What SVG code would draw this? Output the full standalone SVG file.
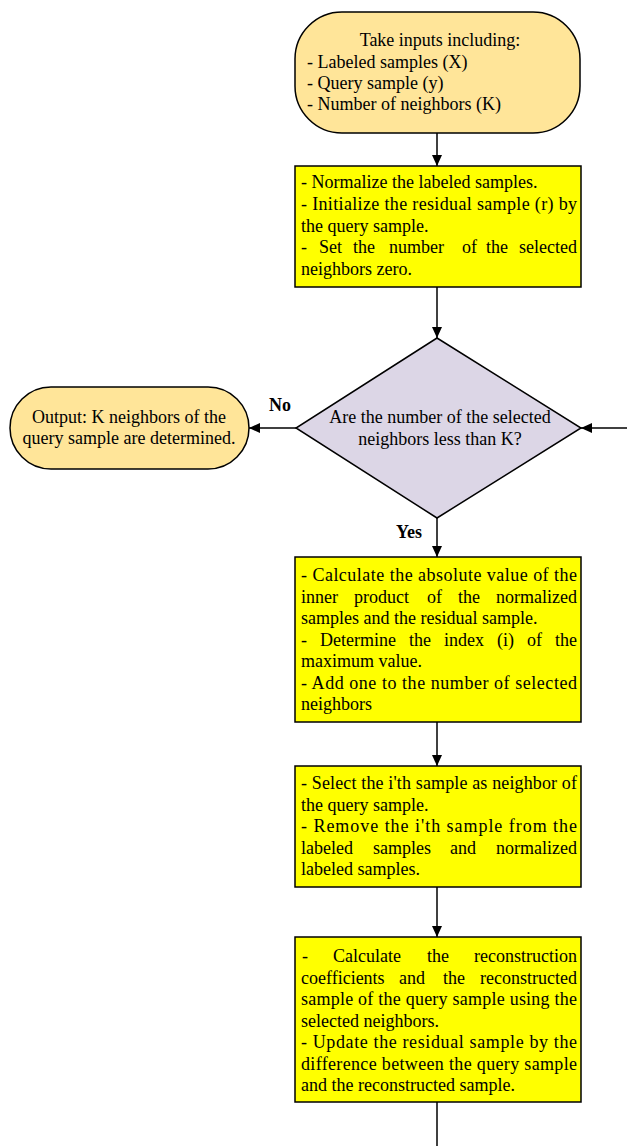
<svg xmlns="http://www.w3.org/2000/svg" width="627" height="1146" viewBox="0 0 627 1146">
<style>
.t{font-family:"Liberation Serif","Times New Roman",serif;font-size:18px;fill:#000}
.c{text-anchor:middle}
.e{text-anchor:end}
.b{font-weight:bold}
.term{fill:#FFE599;stroke:#000;stroke-width:1.5}
.box{fill:#FFFF00;stroke:#000;stroke-width:1.5}
.dia{fill:#DCD6E6;stroke:#000;stroke-width:1.5}
.ln{stroke:#000;stroke-width:1.5;fill:none;marker-end:url(#ah)}
.ln0{stroke:#000;stroke-width:1.5;fill:none}
</style>
<defs>
<marker id="ah" markerWidth="12" markerHeight="10" refX="11" refY="5" orient="auto" markerUnits="userSpaceOnUse">
<path d="M0,0 L11,5 L0,10 Z" fill="#000"/>
</marker>
</defs>

<g id="connectors">
<line class="ln" x1="437" y1="133" x2="437" y2="166"/>
<line class="ln" x1="437" y1="287" x2="437" y2="338"/>
<line class="ln" x1="296" y1="428" x2="249" y2="428"/>
<line class="ln" x1="627" y1="428" x2="581" y2="428"/>
<line class="ln" x1="437" y1="518" x2="437" y2="557"/>
<line class="ln" x1="437" y1="722" x2="437" y2="766"/>
<line class="ln" x1="437" y1="887" x2="437" y2="937"/>
<line class="ln0" x1="437" y1="1102" x2="437" y2="1146"/>
<text class="t b" x="269" y="411">No</text>
<text class="t b" x="396" y="538">Yes</text>
</g>

<g id="start">
<rect class="term" x="295" y="12" width="285" height="121" rx="47" ry="47"/>
<text class="t c" x="440" y="46">Take inputs including:</text>
<text class="t" x="307" y="68">- Labeled samples (X)</text>
<text class="t" x="307" y="89">- Query sample (y)</text>
<text class="t" x="307" y="110">- Number of neighbors (K)</text>
</g>

<g id="init">
<rect class="box" x="295" y="166" width="286" height="121"/>
<text class="t" x="301" y="188">- Normalize the labeled samples.</text>
<text class="t" x="301" y="210" textLength="276" lengthAdjust="spacing">- Initialize the residual sample (r) by</text>
<text class="t" x="301" y="232">the query sample.</text>
<text class="t" y="253"><tspan x="301">-</tspan><tspan x="319">Set</tspan><tspan x="353">the</tspan><tspan x="389">number</tspan><tspan x="462">of</tspan><tspan x="486">the</tspan><tspan x="577" text-anchor="end">selected</tspan></text>
<text class="t" x="301" y="275">neighbors zero.</text>
</g>

<g id="decision">
<polygon class="dia" points="437,338 581,428 437,518 296,428"/>
<text class="t c" x="440" y="423">Are the number of the selected</text>
<text class="t c" x="440" y="445">neighbors less than K?</text>
</g>

<g id="output">
<rect class="term" x="10" y="387" width="239" height="82" rx="41" ry="41"/>
<text class="t c" x="129" y="423">Output: K neighbors of the</text>
<text class="t c" x="129" y="444">query sample are determined.</text>
</g>

<g id="calc">
<rect class="box" x="295" y="557" width="286" height="165"/>
<text class="t" x="301" y="581" textLength="276" lengthAdjust="spacing">- Calculate the absolute value of the</text>
<text class="t" y="603"><tspan x="301">inner</tspan><tspan x="354">product</tspan><tspan x="427">of</tspan><tspan x="458">the</tspan><tspan x="577" text-anchor="end">normalized</tspan></text>
<text class="t" x="301" y="624">samples and  the residual sample.</text>
<text class="t" y="646"><tspan x="301">-</tspan><tspan x="320">Determine</tspan><tspan x="409">the</tspan><tspan x="444">index</tspan><tspan x="497">(i)</tspan><tspan x="527">of</tspan><tspan x="577" text-anchor="end">the</tspan></text>
<text class="t" x="301" y="667">maximum value.</text>
<text class="t" x="301" y="689" textLength="276" lengthAdjust="spacing">- Add one to the number of selected</text>
<text class="t" x="301" y="710">neighbors</text>
</g>

<g id="select">
<rect class="box" x="295" y="766" width="286" height="121"/>
<text class="t" x="301" y="789" textLength="276" lengthAdjust="spacing">- Select the i'th sample as neighbor of</text>
<text class="t" x="301" y="811">the query sample.</text>
<text class="t" x="301" y="832" textLength="276" lengthAdjust="spacing">- Remove the i'th sample from the</text>
<text class="t" y="854"><tspan x="301">labeled</tspan><tspan x="373">samples</tspan><tspan x="450">and</tspan><tspan x="577" text-anchor="end">normalized</tspan></text>
<text class="t" x="301" y="875">labeled samples.</text>
</g>

<g id="update">
<rect class="box" x="295" y="937" width="286" height="165"/>
<text class="t" y="962"><tspan x="302">-</tspan><tspan x="333">Calculate</tspan><tspan x="427">the</tspan><tspan x="577" text-anchor="end">reconstruction</tspan></text>
<text class="t" y="983.5"><tspan x="301">coefficients</tspan><tspan x="399">and</tspan><tspan x="443">the</tspan><tspan x="577" text-anchor="end">reconstructed</tspan></text>
<text class="t" x="301" y="1005" textLength="276" lengthAdjust="spacing">sample of the query sample using the</text>
<text class="t" x="301" y="1026.5">selected neighbors.</text>
<text class="t" x="301" y="1048" textLength="276" lengthAdjust="spacing">- Update the residual sample by the</text>
<text class="t" x="301" y="1069.5" textLength="276" lengthAdjust="spacing">difference between the query sample</text>
<text class="t" x="301" y="1091">and the reconstructed sample.</text>
</g>
</svg>
